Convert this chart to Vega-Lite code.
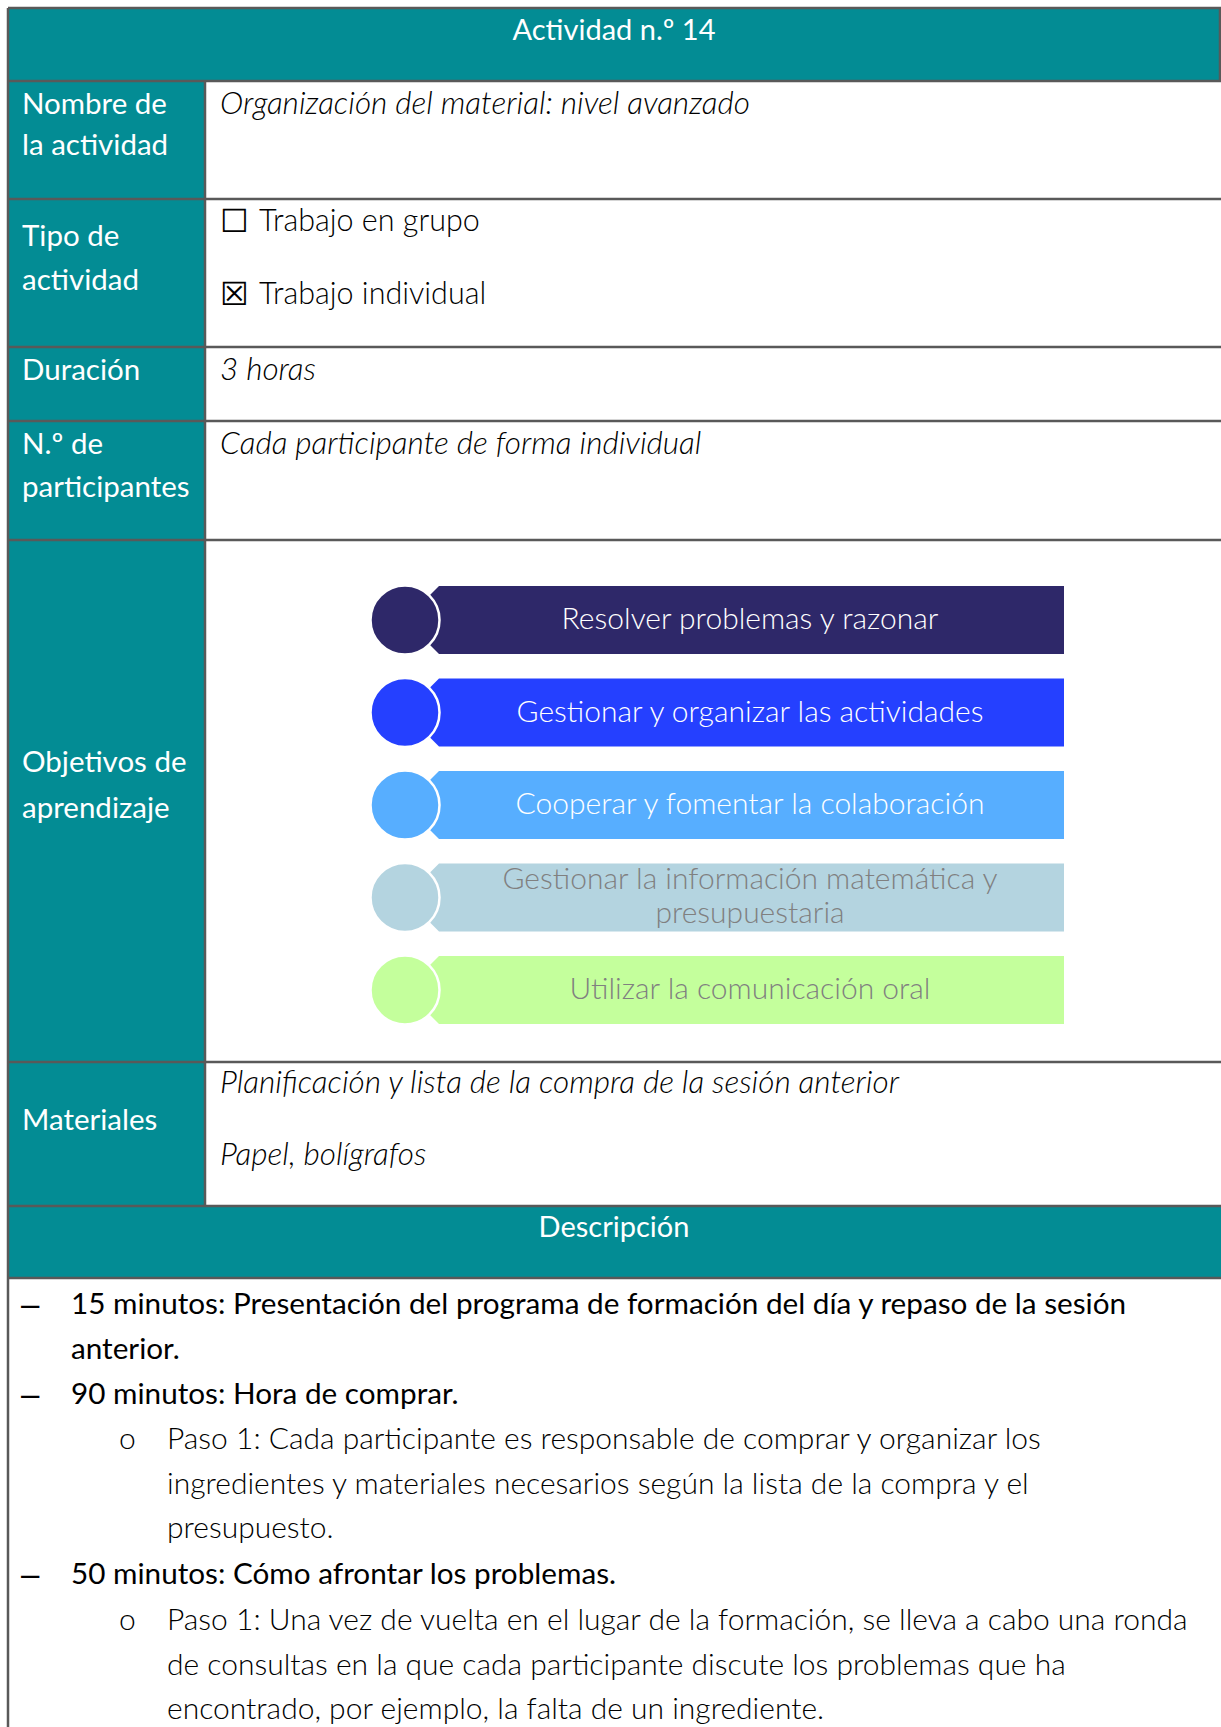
{
  "$schema": "https://vega.github.io/schema/vega-lite/v6.json",
  "width": 1221,
  "height": 1727,
  "autosize": {"type": "none"},
  "padding": 0,
  "background": "#ffffff",
  "config": {"view": {"stroke": null}},
  "datasets": {
    "cells": [
      {"x": 8, "x2": 1221, "y": 8, "y2": 81},
      {"x": 8, "x2": 205, "y": 81, "y2": 1206},
      {"x": 8, "x2": 1221, "y": 1206, "y2": 1278}
    ],
    "lines": [
      {"x": 8, "x2": 1221, "y": 8, "y2": 8},
      {"x": 8, "x2": 1221, "y": 81, "y2": 81},
      {"x": 8, "x2": 1221, "y": 199, "y2": 199},
      {"x": 8, "x2": 1221, "y": 347, "y2": 347},
      {"x": 8, "x2": 1221, "y": 421, "y2": 421},
      {"x": 8, "x2": 1221, "y": 540, "y2": 540},
      {"x": 8, "x2": 1221, "y": 1062, "y2": 1062},
      {"x": 8, "x2": 1221, "y": 1206, "y2": 1206},
      {"x": 8, "x2": 1221, "y": 1278, "y2": 1278},
      {"x": 8, "x2": 8, "y": 8, "y2": 1727},
      {"x": 205, "x2": 205, "y": 81, "y2": 1206},
      {"x": 1220, "x2": 1220, "y": 8, "y2": 81}
    ],
    "objetivos": [
      {"k": 1, "label": "Resolver problemas y razonar", "x": 734.5, "cx": 405, "tx": 750, "y": 620, "ty": 620},
      {"k": 2, "label": "Gestionar y organizar las actividades", "x": 734.5, "cx": 405, "tx": 750, "y": 712.5, "ty": 712.5},
      {"k": 3, "label": "Cooperar y fomentar la colaboración", "x": 734.5, "cx": 405, "tx": 750, "y": 805, "ty": 805},
      {"k": 4, "label": "Gestionar la información matemática y\npresupuestaria", "x": 734.5, "cx": 405, "tx": 750, "y": 897.5, "ty": 880},
      {"k": 5, "label": "Utilizar la comunicación oral", "x": 734.5, "cx": 405, "tx": 750, "y": 990, "ty": 990}
    ],
    "texts": [
      {"role": "header", "x": 614, "y": 31, "text": "Actividad n.º 14"},
      {"role": "header", "x": 614, "y": 1228, "text": "Descripción"},
      {"role": "label", "x": 22, "y": 105, "text": "Nombre de"},
      {"role": "label", "x": 22, "y": 146, "text": "la actividad"},
      {"role": "label", "x": 22, "y": 237, "text": "Tipo de"},
      {"role": "label", "x": 22, "y": 281, "text": "actividad"},
      {"role": "label", "x": 22, "y": 371, "text": "Duración"},
      {"role": "label", "x": 22, "y": 445, "text": "N.º de"},
      {"role": "label", "x": 22, "y": 488, "text": "participantes"},
      {"role": "label", "x": 22, "y": 763, "text": "Objetivos de"},
      {"role": "label", "x": 22, "y": 809, "text": "aprendizaje"},
      {"role": "label", "x": 22, "y": 1121, "text": "Materiales"},
      {"role": "content", "x": 220, "y": 105, "text": "Organización del material: nivel avanzado"},
      {"role": "content", "x": 220, "y": 371, "text": "3 horas"},
      {"role": "content", "x": 220, "y": 445, "text": "Cada participante de forma individual"},
      {"role": "content", "x": 220, "y": 1084, "text": "Planificación y lista de la compra de la sesión anterior"},
      {"role": "content", "x": 220, "y": 1156, "text": "Papel, bolígrafos"},
      {"role": "check", "x": 220, "y": 222, "text": "☐"},
      {"role": "check", "x": 220, "y": 295, "text": "☒"},
      {"role": "plain", "x": 259, "y": 222, "text": "Trabajo en grupo"},
      {"role": "plain", "x": 259, "y": 295, "text": "Trabajo individual"},
      {"role": "dash", "x": 21, "y": 1305, "text": "–"},
      {"role": "dash", "x": 21, "y": 1395, "text": "–"},
      {"role": "dash", "x": 21, "y": 1575, "text": "–"},
      {"role": "body", "x": 71, "y": 1305, "text": "15 minutos: Presentación del programa de formación del día y repaso de la sesión"},
      {"role": "body", "x": 71, "y": 1350, "text": "anterior."},
      {"role": "body", "x": 71, "y": 1395, "text": "90 minutos: Hora de comprar."},
      {"role": "body", "x": 71, "y": 1575, "text": "50 minutos: Cómo afrontar los problemas."},
      {"role": "ring", "x": 119, "y": 1440, "text": "o"},
      {"role": "ring", "x": 119, "y": 1621, "text": "o"},
      {"role": "sub", "x": 167, "y": 1440, "text": "Paso 1: Cada participante es responsable de comprar y organizar los"},
      {"role": "sub", "x": 167, "y": 1485, "text": "ingredientes y materiales necesarios según la lista de la compra y el"},
      {"role": "sub", "x": 167, "y": 1529, "text": "presupuesto."},
      {"role": "sub", "x": 167, "y": 1621, "text": "Paso 1: Una vez de vuelta en el lugar de la formación, se lleva a cabo una ronda"},
      {"role": "sub", "x": 167, "y": 1666, "text": "de consultas en la que cada participante discute los problemas que ha"},
      {"role": "sub", "x": 167, "y": 1710, "text": "encontrado, por ejemplo, la falta de un ingrediente."}
    ]
  },
  "encoding": {
    "x": {"field": "x", "type": "quantitative", "scale": {"domain": [0, 1221], "nice": false, "zero": false}, "axis": null},
    "y": {"field": "y", "type": "quantitative", "scale": {"domain": [0, 1727], "nice": false, "zero": false, "reverse": true}, "axis": null}
  },
  "layer": [
    {
      "data": {"name": "cells"},
      "mark": {"type": "rect", "fill": "#038C94"},
      "encoding": {"x2": {"field": "x2"}, "y2": {"field": "y2"}}
    },
    {
      "data": {"name": "lines"},
      "mark": {"type": "rule", "color": "#595959", "strokeWidth": 2.5},
      "encoding": {"x2": {"field": "x2"}, "y2": {"field": "y2"}}
    },
    {
      "data": {"name": "objetivos"},
      "mark": {"type": "point", "shape": "M -1 0 L -0.8968 -0.1032 L 1 -0.1032 L 1 0.1032 L -0.8968 0.1032 Z", "filled": true, "size": 434281, "opacity": 1, "strokeWidth": 0},
      "encoding": {
        "color": {"field": "k", "type": "nominal", "scale": {"domain": [1, 2, 3, 4, 5], "range": ["#2E2869", "#2540FF", "#57AEFF", "#B4D4E0", "#C4FF9C"]}, "legend": null}
      }
    },
    {
      "data": {"name": "objetivos"},
      "mark": {"type": "point", "shape": "circle", "filled": true, "size": 4761, "opacity": 1, "stroke": "#ffffff", "strokeWidth": 2.5},
      "encoding": {
        "x": {"field": "cx", "type": "quantitative"},
        "color": {"field": "k", "type": "nominal", "legend": null}
      }
    },
    {
      "data": {"name": "objetivos"},
      "mark": {"type": "text", "font": "Lato", "fontWeight": 300, "fontSize": 30, "align": "center", "baseline": "middle", "lineBreak": "\n", "lineHeight": 34},
      "encoding": {
        "x": {"field": "tx", "type": "quantitative"},
        "y": {"field": "ty", "type": "quantitative"},
        "text": {"field": "label"},
        "color": {"condition": {"test": "datum.k > 3", "value": "#808080"}, "value": "#ffffff"}
      }
    },
    {
      "data": {"name": "texts"},
      "transform": [{"filter": "datum.role === 'header'"}],
      "mark": {"type": "text", "font": "Lato", "fontSize": 29, "align": "center", "baseline": "middle", "color": "#ffffff"},
      "encoding": {"text": {"field": "text"}}
    },
    {
      "data": {"name": "texts"},
      "transform": [{"filter": "datum.role === 'label'"}],
      "mark": {"type": "text", "font": "Lato", "fontSize": 29.5, "align": "left", "baseline": "middle", "color": "#ffffff"},
      "encoding": {"text": {"field": "text"}}
    },
    {
      "data": {"name": "texts"},
      "transform": [{"filter": "datum.role === 'content'"}],
      "mark": {"type": "text", "font": "Lato", "fontStyle": "italic", "fontWeight": 300, "fontSize": 31.5, "align": "left", "baseline": "middle", "color": "#000000"},
      "encoding": {"text": {"field": "text"}}
    },
    {
      "data": {"name": "texts"},
      "transform": [{"filter": "datum.role === 'check'"}],
      "mark": {"type": "text", "font": "DejaVu Sans", "fontWeight": 300, "fontSize": 32, "align": "left", "baseline": "middle", "color": "#000000"},
      "encoding": {"text": {"field": "text"}}
    },
    {
      "data": {"name": "texts"},
      "transform": [{"filter": "datum.role === 'plain'"}],
      "mark": {"type": "text", "font": "Lato", "fontWeight": 300, "fontSize": 30.5, "align": "left", "baseline": "middle", "color": "#000000"},
      "encoding": {"text": {"field": "text"}}
    },
    {
      "data": {"name": "texts"},
      "transform": [{"filter": "datum.role === 'sub' || datum.role === 'ring'"}],
      "mark": {"type": "text", "font": "Lato", "fontWeight": 300, "fontSize": 30, "align": "left", "baseline": "middle", "color": "#000000"},
      "encoding": {"text": {"field": "text"}}
    },
    {
      "data": {"name": "texts"},
      "transform": [{"filter": "datum.role === 'dash'"}],
      "mark": {"type": "text", "font": "Liberation Sans", "fontSize": 33, "align": "left", "baseline": "middle", "color": "#000000"},
      "encoding": {"text": {"field": "text"}}
    },
    {
      "data": {"name": "texts"},
      "transform": [{"filter": "datum.role === 'body'"}],
      "mark": {"type": "text", "font": "Lato", "fontSize": 29.7, "align": "left", "baseline": "middle", "color": "#000000"},
      "encoding": {"text": {"field": "text"}}
    }
  ]
}
